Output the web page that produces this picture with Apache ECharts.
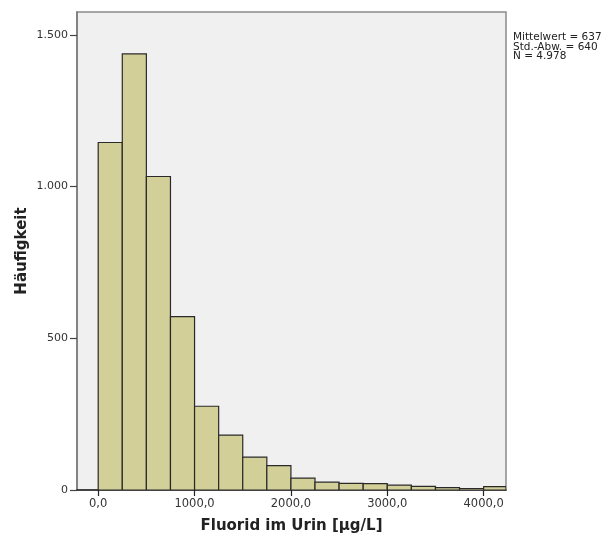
<!DOCTYPE html>
<html>
<head>
<meta charset="utf-8">
<script src="https://cdn.jsdelivr.net/npm/echarts@6/dist/echarts.min.js"></script>
<style>
html,body{margin:0;padding:0;background:#fff;}
#chart{width:609px;height:539px;}
</style>
</head>
<body>
<div id="chart"></div>
<script>
// Histogram data: bin start (µg/L), bin width, counts
const binStarts = [0, 250, 500, 750, 1000, 1250, 1500, 1750, 2000, 2250, 2500, 2750, 3000, 3250, 3500, 3750, 4000];
const binWidth = 250;
const counts = [1145, 1437, 1033, 571, 276, 181, 108, 80, 39, 26, 22, 21, 16, 12, 8, 5, 11];
const xTickValues = [0, 1000, 2000, 3000, 4000];
const yTickValues = [0, 500, 1000, 1500];
const statsLines = ['Mittelwert = 637', 'Std.-Abw. = 640', 'N = 4.978'];
const xTitle = 'Fluorid im Urin [µg/L]';
const yTitle = 'Häufigkeit';

const data = binStarts.map((s, i) => [s, s + binWidth, counts[i]]);

const chart = echarts.init(document.getElementById('chart'), null, {renderer: 'canvas'});
const font = '"DejaVu Sans", sans-serif';

function fmtX(v) { return v.toFixed(1).replace('.', ','); }
function fmtY(v) { return String(v).replace(/\B(?=(\d{3})+(?!\d))/g, '.'); }

chart.setOption({
  animation: false,
  backgroundColor: '#ffffff',
  grid: {
    left: 77, right: 103, top: 12, bottom: 49,
    show: true, backgroundColor: '#f0f0f0', borderColor: '#8a8a8a', borderWidth: 1.5
  },
  xAxis: {
    type: 'value', min: -220, max: 4232,
    splitLine: {show: false},
    axisLine: {show: true, onZero: false, lineStyle: {color: '#222', width: 1.5}},
    axisTick: {show: true, length: 6, lineStyle: {color: '#222', width: 1.2}, customValues: xTickValues},
    axisLabel: {customValues: xTickValues, formatter: fmtX, color: '#333', fontFamily: font, fontSize: 11.5, margin: 8}
  },
  yAxis: {
    type: 'value', min: 0, max: 1575,
    splitLine: {show: false},
    axisLine: {show: true, onZero: false, lineStyle: {color: '#777', width: 1.5}},
    axisTick: {show: true, length: 7, lineStyle: {color: '#444', width: 1.2}, customValues: yTickValues},
    axisLabel: {customValues: yTickValues, formatter: fmtY, color: '#333', fontFamily: font, fontSize: 11, margin: 9}
  },
  series: [{
    type: 'custom',
    clip: true,
    data: data,
    encode: {x: [0, 1], y: 2},
    renderItem: function (params, api) {
      const p0 = api.coord([api.value(0), 0]);
      const p1 = api.coord([api.value(1), api.value(2)]);
      const rect = {x: p0[0], y: p1[1], width: p1[0] - p0[0], height: p0[1] - p1[1]};
      const shape = echarts.graphic.clipRectByRect(rect, {
        x: params.coordSys.x, y: params.coordSys.y,
        width: params.coordSys.width, height: params.coordSys.height
      });
      return shape && {
        type: 'rect', shape: shape,
        style: {fill: '#d3cf98', stroke: '#2a2a2a', lineWidth: 1.2}
      };
    }
  }],
  graphic: [
    {
      type: 'text', left: 513, top: 32,
      style: {text: statsLines.join('\n'), font: '10.5px ' + font, fill: '#222', lineHeight: 9.5}
    },
    {
      type: 'text', x: 22, y: 251, rotation: Math.PI / 2,
      style: {text: yTitle, font: 'bold 15px ' + font, fill: '#222', align: 'center', verticalAlign: 'middle'}
    },
    {
      type: 'text', x: 291.5, y: 526,
      style: {text: xTitle, font: 'bold 15px ' + font, fill: '#222', align: 'center', verticalAlign: 'middle'}
    }
  ]
});
</script>
</body>
</html>
